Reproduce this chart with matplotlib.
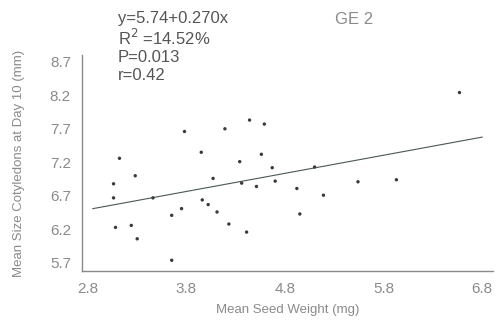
import numpy as np
import matplotlib
matplotlib.use('agg')
from matplotlib import pyplot as plt

plt.rcParams['font.family'] = ['Liberation Sans', 'DejaVu Sans']

# mean seed weight (mg) vs mean cotyledon size at day 10 (mm), GE 2
seed_weight = [3.06, 3.12, 3.06, 3.08, 3.24, 3.28, 3.30, 3.46, 3.65, 3.65,
               3.75, 3.78, 3.95, 3.96, 4.02, 4.07, 4.11, 4.19, 4.23, 4.34,
               4.36, 4.41, 4.44, 4.51, 4.56, 4.59, 4.67, 4.70, 4.92, 4.95,
               5.10, 5.19, 5.54, 5.93, 6.57]
cotyledon_size = [6.88, 7.26, 6.67, 6.23, 6.26, 7.00, 6.06, 6.67, 5.74, 6.41,
                  6.51, 7.66, 7.35, 6.64, 6.57, 6.96, 6.46, 7.70, 6.28, 7.21,
                  6.89, 6.16, 7.83, 6.84, 7.32, 7.77, 7.12, 6.92, 6.81, 6.43,
                  7.13, 6.71, 6.91, 6.94, 8.24]
intercept = 5.74
slope = 0.270
fit_range = [2.85, 6.8]
stat_lines = ['y=5.74+0.270x', 'R$^2$ =14.52%', 'P=0.013', 'r=0.42']

xticks = [2.8, 3.8, 4.8, 5.8, 6.8]
yticks = [5.7, 6.2, 6.7, 7.2, 7.7, 8.2, 8.7]

grey = '#8a8a8a'

fig = plt.figure(figsize=(4.97, 3.21), dpi=100)
ax = fig.add_axes([82 / 497, 50 / 321, 411 / 497, 216 / 321])

ax.scatter(seed_weight, cotyledon_size, s=6, c='#3a3a3a', edgecolors='none', zorder=3)
xf = np.array(fit_range)
ax.plot(xf, intercept + slope * xf, color='#4a5a50', lw=0.8)

ax.set_xlim(2.74, 6.91)
ax.set_ylim(5.58, 8.8)
ax.set_xticks(xticks)
ax.set_yticks(yticks)
ax.set_xticklabels(['%.1f' % t for t in xticks])
ax.set_yticklabels(['%.1f' % t for t in yticks])
ax.tick_params(length=0, colors=grey, labelsize=11, pad=8)
for side in ['top', 'right']:
    ax.spines[side].set_visible(False)
for side in ['left', 'bottom']:
    ax.spines[side].set_color(grey)
    ax.spines[side].set_linewidth(1.0)

ax.set_xlabel('Mean Seed Weight (mg)', color=grey, fontsize=9.5, labelpad=6)
ax.set_ylabel('Mean Size Cotyledons at Day 10 (mm)', color=grey, fontsize=9.5, labelpad=18)

# regression summary, one line at a time
for i, line in enumerate(stat_lines):
    fig.text(118 / 497, 1 - (19 + 19 * i) / 321, line, ha='left', va='center',
             fontsize=12, color='#555555')
fig.text(335 / 497, 1 - 19 / 321, 'GE 2', ha='left', va='center', fontsize=12,
         color=grey)

fig.savefig('out.png', dpi=100)
